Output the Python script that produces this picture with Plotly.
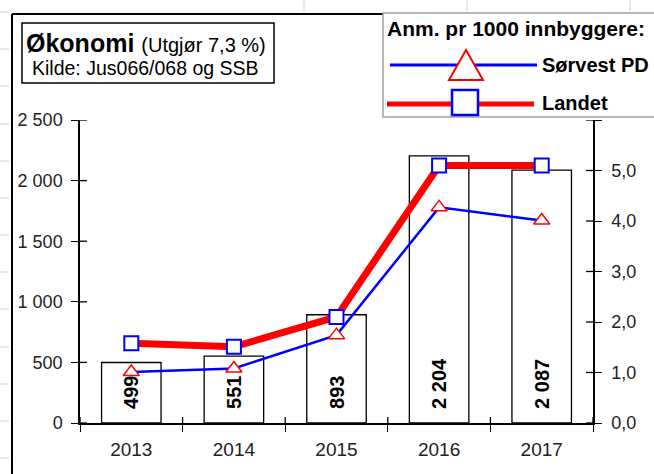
import plotly.graph_objects as go

# ---- data ----
years = ["2013", "2014", "2015", "2016", "2017"]
anmeldte = [499, 551, 893, 2204, 2087]          # bars, left axis
sorvest_pd = [1.01, 1.08, 1.74, 4.27, 4.01]     # per 1000 inhabitants, right axis
landet = [1.58, 1.51, 2.10, 5.10, 5.10]         # per 1000 inhabitants, right axis
left_ticks = [0, 500, 1000, 1500, 2000, 2500]
right_ticks = [0, 1, 2, 3, 4, 5, 6]
right_tick_labels = ["0,0", "1,0", "2,0", "3,0", "4,0", "5,0", ""]  # 6,0 is hidden by the legend box

FONT = "Liberation Sans, Arial, sans-serif"
W, H = 654, 474
L, R, T, B = 80, 61, 120, 51
PW, PH = W - L - R, H - T - B


def px(x):
    return (x - L) / PW


def py(y):
    return (H - B - y) / PH


fig = go.Figure()
fig.add_bar(
    x=years, y=anmeldte, width=0.58,
    marker=dict(color="white", line=dict(color="black", width=1.3)),
    texttemplate="\u00a0\u00a0%{y:,d}", textposition="inside", textangle=-90,
    insidetextanchor="start",
    insidetextfont=dict(family=FONT, size=20, color="black", weight="bold"),
    showlegend=False, hoverinfo="skip",
)
fig.add_scatter(
    x=years, y=landet, yaxis="y2", mode="lines+markers", name="Landet",
    line=dict(color="#ff0000", width=7),
    marker=dict(symbol="square", size=14, color="white",
                line=dict(color="#0000ff", width=2)),
    showlegend=False,
)
fig.add_scatter(
    x=years, y=sorvest_pd, yaxis="y2", mode="lines+markers", name="Sørvest PD",
    line=dict(color="#0000ff", width=2.5),
    marker=dict(symbol="triangle-up", size=14, color="white",
                line=dict(color="#ff0000", width=1.5)),
    showlegend=False,
)

shapes = []
# inner halves of crossing ticks
for v in left_ticks:
    shapes.append(dict(type="line", xref="paper", yref="y", x0=0, x1=px(87), y0=v, y1=v,
                       line=dict(color="black", width=1.3)))
for v in right_ticks:
    shapes.append(dict(type="line", xref="paper", yref="y2", x0=px(586), x1=1, y0=v, y1=v,
                       line=dict(color="black", width=1.3)))
for k in range(len(years) + 1):
    shapes.append(dict(type="line", xref="x", yref="paper", x0=k - 0.5, x1=k - 0.5,
                       y0=0, y1=py(417), line=dict(color="black", width=1.3)))

# spreadsheet cell marks in the margin
for yy in [12, 49, 86, 124, 161, 198, 235, 272, 309, 347, 384, 421, 458]:
    shapes.append(dict(type="line", xref="paper", yref="paper", x0=px(0), x1=px(9),
                       y0=py(yy), y1=py(yy), line=dict(color="#d0d0d0", width=1)))
for xx in [304, 467, 630]:
    shapes.append(dict(type="line", xref="paper", yref="paper", x0=px(xx), x1=px(xx),
                       y0=py(0), y1=py(11), line=dict(color="#d0d0d0", width=1)))

# outer frame
shapes.append(dict(type="line", xref="paper", yref="paper", x0=px(12), x1=px(12),
                   y0=py(14), y1=py(480), line=dict(color="black", width=2)))
shapes.append(dict(type="line", xref="paper", yref="paper", x0=px(12), x1=px(660),
                   y0=py(14), y1=py(14), line=dict(color="black", width=2)))

# title box
shapes.append(dict(type="rect", xref="paper", yref="paper", x0=px(22), x1=px(274),
                   y0=py(83), y1=py(23), fillcolor="white",
                   line=dict(color="black", width=1.5), layer="above"))

# legend box
shapes.append(dict(type="rect", xref="paper", yref="paper", x0=px(383), x1=px(660),
                   y0=py(117), y1=py(13), fillcolor="white",
                   line=dict(color="#a0a0a0", width=1.5), layer="above"))
shapes.append(dict(type="line", xref="paper", yref="paper", x0=px(390), x1=px(537),
                   y0=py(65), y1=py(65), line=dict(color="#0000ff", width=3), layer="above"))
shapes.append(dict(type="path", xref="paper", yref="paper",
                   path=f"M {px(466)} {py(50)} L {px(449)} {py(80)} L {px(483)} {py(80)} Z",
                   fillcolor="white", line=dict(color="#ff0000", width=2), layer="above"))
shapes.append(dict(type="line", xref="paper", yref="paper", x0=px(387), x1=px(534),
                   y0=py(104), y1=py(104), line=dict(color="#ff0000", width=5), layer="above"))
shapes.append(dict(type="rect", xref="paper", yref="paper", x0=px(452), x1=px(478),
                   y0=py(115), y1=py(90), fillcolor="white",
                   line=dict(color="#0000ff", width=2.5), layer="above"))

annotations = [
    dict(xref="paper", yref="paper", x=px(146), y=py(43), xanchor="center", yanchor="middle",
         text="<b>Økonomi</b> <span style='font-size:20px'>(Utgjør 7,3 %)</span>",
         showarrow=False, font=dict(family=FONT, size=25, color="black")),
    dict(xref="paper", yref="paper", x=px(145), y=py(68), xanchor="center", yanchor="middle",
         text="Kilde: Jus066/068 og SSB", showarrow=False,
         font=dict(family=FONT, size=19.5, color="black")),
    dict(xref="paper", yref="paper", x=px(385), y=py(28), xanchor="left", yanchor="middle",
         text="<b>Anm. pr 1000 innbyggere:</b>", showarrow=False,
         font=dict(family=FONT, size=21, color="black")),
    dict(xref="paper", yref="paper", x=px(540), y=py(65), xanchor="left", yanchor="middle",
         text="<b>Sørvest PD</b>", showarrow=False,
         font=dict(family=FONT, size=20, color="black")),
    dict(xref="paper", yref="paper", x=px(540), y=py(103), xanchor="left", yanchor="middle",
         text="<b>Landet</b>", showarrow=False,
         font=dict(family=FONT, size=20, color="black")),
]

tickfont = dict(family=FONT, size=18, color="#222222")
fig.update_layout(
    width=W, height=H, autosize=False,
    margin=dict(l=L, r=R, t=T, b=B, pad=0),
    paper_bgcolor="white", plot_bgcolor="white",
    separators=", ",
    showlegend=False,
    xaxis=dict(type="category", range=[-0.5, 4.5], showgrid=False, zeroline=False,
               showline=True, linecolor="black", linewidth=1.5,
               ticks="outside", tickson="boundaries", ticklen=7, tickcolor="black",
               tickwidth=1.3, tickfont=dict(family=FONT, size=19, color="#222222"),
               ticklabelstandoff=8),
    yaxis=dict(range=[0, 2500], tickvals=left_ticks, tickformat=",d", showgrid=False,
               zeroline=False, showline=True, linecolor="black", linewidth=1.5,
               ticks="outside", ticklen=7, tickcolor="black", tickwidth=1.3,
               tickfont=tickfont, ticklabelstandoff=5),
    yaxis2=dict(range=[0, 6], overlaying="y", side="right", tickvals=right_ticks,
                ticktext=right_tick_labels, showgrid=False, zeroline=False, showline=True,
                linecolor="black", linewidth=1.5, ticks="outside", ticklen=7,
                tickcolor="black", tickwidth=1.3, tickfont=tickfont, ticklabelstandoff=6),
    shapes=shapes,
    annotations=annotations,
)

fig.write_html("out.html", config={"displayModeBar": False},
               post_script="document.body.style.margin='0';")
